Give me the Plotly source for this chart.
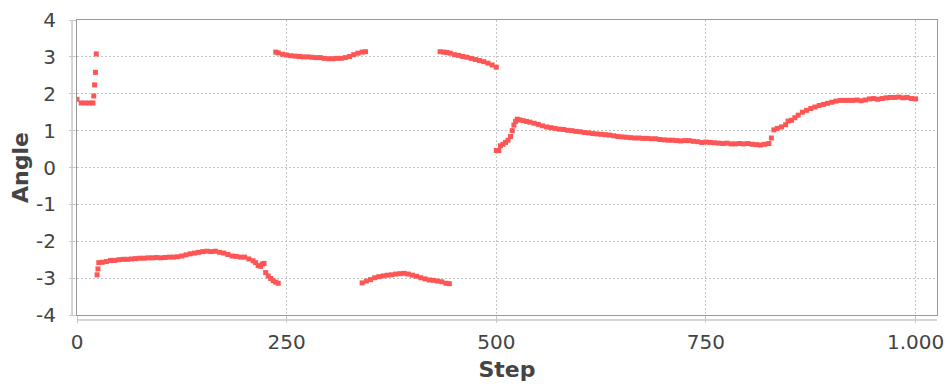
import plotly.graph_objects as go

# ---- data (Step vs Angle) ----
step = [
    0, 5, 10, 15, 19,
    20, 21, 22, 23,
    24, 25, 26, 30, 35, 40, 45, 50, 55, 60, 65, 70, 75, 80, 85, 90, 95, 100,
    105, 110, 115, 120, 125, 130, 135, 140, 145, 150, 155, 160, 165, 170, 175,
    180, 185, 190, 195, 200, 205, 210, 213, 216, 219, 221, 223, 225, 228, 231,
    234, 237, 240,
    237, 240, 245, 250, 255, 260, 265, 270, 275, 280, 285, 290, 295, 300, 305,
    310, 315, 320, 325, 330, 335, 340, 344,
    340, 345, 350, 355, 360, 365, 370, 375, 380, 385, 390, 395, 400, 405, 410,
    415, 420, 425, 430, 435, 440, 444,
    433, 437, 441, 445, 450, 455, 460, 465, 470, 475, 480, 485, 490, 495, 500,
    500, 503, 505, 508, 511, 514, 517, 519, 521, 523, 525, 528, 532, 536, 540,
    545, 550, 555, 560, 565, 570, 575, 580, 585, 590, 595, 600, 605, 610, 615,
    620, 625, 630, 635, 640, 645, 650, 655, 660, 665, 670, 675, 680, 685, 690,
    695, 700, 705, 710, 715, 720, 725, 730, 735, 740, 745, 750, 755, 760, 765,
    770, 775, 780, 785, 790, 795, 800, 805, 810, 815, 820, 825, 828, 831, 835,
    840, 845, 848, 852, 856, 860, 865, 870, 875, 880, 885, 890, 895, 900, 905,
    910, 915, 920, 925, 930, 935, 940, 945, 950, 955, 960, 965, 970, 975, 980,
    985, 990, 995, 1000,
]
angle = [
    1.85, 1.75, 1.75, 1.75, 1.75,
    1.94, 2.24, 2.58, 3.08,
    -2.91, -2.75, -2.58, -2.57, -2.55, -2.52, -2.52, -2.50, -2.49, -2.49, -2.48,
    -2.47, -2.46, -2.46, -2.45, -2.45, -2.44, -2.45,
    -2.44, -2.43, -2.43, -2.42, -2.40, -2.37, -2.34, -2.32, -2.30, -2.28, -2.27,
    -2.28, -2.27, -2.30, -2.32,
    -2.36, -2.40, -2.41, -2.43, -2.43, -2.48, -2.53, -2.58, -2.66, -2.68, -2.62,
    -2.60, -2.85, -2.94, -3.01,
    -3.07, -3.11, -3.14,
    3.13, 3.11, 3.07, 3.05, 3.03, 3.02, 3.01, 3.00, 3.00, 2.99, 2.98, 2.98,
    2.96, 2.95, 2.95, 2.96, 2.96, 2.98, 3.01, 3.06, 3.10, 3.13, 3.14,
    -3.13, -3.08, -3.04, -2.99, -2.96, -2.94, -2.92, -2.91, -2.89, -2.88, -2.87,
    -2.89, -2.92, -2.95, -2.99, -3.02, -3.05, -3.06, -3.08, -3.10, -3.14, -3.15,
    3.14, 3.13, 3.12, 3.10, 3.06, 3.04, 3.01, 2.99, 2.96, 2.93, 2.90, 2.87,
    2.83, 2.78, 2.72,
    0.46, 0.46, 0.59, 0.63, 0.68, 0.74, 0.84, 1.00, 1.15, 1.25, 1.31, 1.29,
    1.27, 1.25, 1.23,
    1.20, 1.17, 1.13, 1.10, 1.08, 1.06, 1.04, 1.03, 1.01, 1.00, 0.98, 0.97,
    0.95, 0.94, 0.92,
    0.91, 0.90, 0.89, 0.88, 0.86, 0.84, 0.83, 0.82, 0.81, 0.80, 0.80, 0.79,
    0.79, 0.78, 0.78,
    0.76, 0.75, 0.74, 0.74, 0.73, 0.72, 0.73, 0.73, 0.71, 0.70, 0.68, 0.69,
    0.68, 0.67, 0.66,
    0.65, 0.66, 0.64, 0.64, 0.65, 0.64, 0.65, 0.63, 0.62, 0.61, 0.63, 0.65,
    0.80, 1.02, 1.06,
    1.10, 1.16, 1.26, 1.28, 1.35, 1.42, 1.50, 1.55, 1.60, 1.64, 1.68, 1.71,
    1.74, 1.77, 1.80,
    1.82, 1.82, 1.82, 1.82, 1.83, 1.81, 1.83, 1.86, 1.87, 1.85, 1.87, 1.89,
    1.90, 1.90, 1.91,
    1.89, 1.90, 1.87, 1.86,
]

x_ticks = [0, 250, 500, 750, 1000]
x_tick_labels = ["0", "250", "500", "750", "1.000"]
y_ticks = [-4, -3, -2, -1, 0, 1, 2, 3, 4]
y_tick_labels = ["-4", "-3", "-2", "-1", "0", "1", "2", "3", "4"]

fig = go.Figure()
fig.add_trace(go.Scatter(
    x=step, y=angle, mode="markers",
    marker=dict(symbol="square", size=5, color="#FF5555", line=dict(width=0)),
    showlegend=False, hoverinfo="x+y",
))

font_family = "DejaVu Sans"
axis_common = dict(
    showline=True, mirror=True, linecolor="#999999", linewidth=1,
    showgrid=True, gridcolor="#C4C4C4", gridwidth=1, griddash="2px,2px",
    zeroline=False, ticks="outside", ticklen=7, tickcolor="#C8C8C8",
    tickfont=dict(family=font_family, size=20, color="#444444"),
)

fig.update_layout(
    width=952, height=386,
    margin=dict(l=77, r=8, t=18, b=71),
    paper_bgcolor="white", plot_bgcolor="white",
    xaxis=dict(
        range=[0, 1025.5], tickvals=x_ticks, ticktext=x_tick_labels,
        title=dict(text="<b>Step</b>", font=dict(family=font_family, size=22, color="#444444"),
                   standoff=8),
        ticklabelstandoff=2,
        **axis_common,
    ),
    yaxis=dict(
        range=[-4, 4], tickvals=y_ticks, ticktext=y_tick_labels,
        title=dict(text="<b>Angle</b>", font=dict(family=font_family, size=22, color="#444444"),
                   standoff=1),
        ticklabelstandoff=9,
        **axis_common,
    ),
    shapes=[
        dict(type="line", xref="paper", yref="paper", x0=-5 / 867, x1=-5 / 867, y0=0, y1=1,
             line=dict(color="#C8C8C8", width=1.5)),
        dict(type="line", xref="paper", yref="paper", x0=0, x1=1, y0=-5 / 297, y1=-5 / 297,
             line=dict(color="#C8C8C8", width=1.5)),
    ],
)

fig.write_html("out.html")
